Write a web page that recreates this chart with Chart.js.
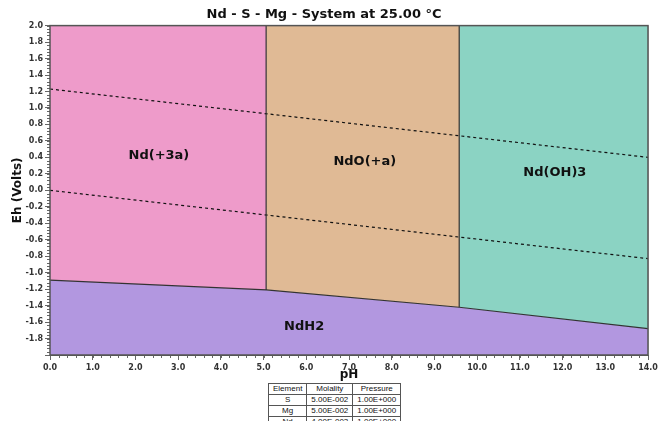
<!DOCTYPE html>
<html>
<head>
<meta charset="utf-8">
<script src="https://cdn.jsdelivr.net/npm/chart.js@4.4.1/dist/chart.umd.min.js"></script>
<style>
  body { margin: 0; background: #fff; }
  #wrap { position: relative; width: 665px; height: 421px; overflow: hidden; }
  #chart { position: absolute; left: 0; top: 0; }
  #conc { position: absolute; left: 268px; top: 383px; border-collapse: collapse;
          font: 8px "Liberation Sans", Arial, sans-serif; color: #111; background: #fff; }
  #conc td, #conc th { border: 1px solid #555; padding: 0 4px; height: 10px; line-height: 10px;
          text-align: center; font-weight: normal; }
</style>
</head>
<body>
<div id="wrap">
  <canvas id="chart" width="665" height="386"></canvas>
  <table id="conc"></table>
</div>
<script>
// stability field boundaries (pH where the fields meet, Eh of the lower hydride boundary)
const phBreaks = [0, 5.06, 9.58, 14];
const ehLower = [-1.09, -1.21, -1.42, -1.68];
const ehMax = 2.0;
const ehMin = -2.0;

const fieldNames = ['Nd(+3a)', 'NdO(+a)', 'Nd(OH)3'];
const fieldColors = ['#ee9bca', '#e0ba95', '#8bd3c3'];
const hydrideName = 'NdH2';
const hydrideColor = '#b297e0';

// water stability lines (Eh at pH 0 and pH 14)
const waterPH = [0, 14];
const o2Eh = [1.23, 0.40];
const h2Eh = [0.0, -0.83];

// where the field names sit
const labelText = ['Nd(+3a)', 'NdO(+a)', 'Nd(OH)3', 'NdH2'];
const labelPH = [2.55, 7.37, 11.82, 5.95];
const labelEh = [0.42, 0.35, 0.22, -1.65];

// concentration table
const elements = ['S', 'Mg', 'Nd'];
const molality = ['5.00E-002', '5.00E-002', '4.00E-003'];
const pressure = ['1.00E+000', '1.00E+000', '1.00E+000'];

const datasets = [];

// upper fields
fieldNames.forEach((name, i) => {
  datasets.push({
    label: name,
    data: [
      { x: phBreaks[i], y: ehMax },
      { x: phBreaks[i + 1], y: ehMax },
      { x: phBreaks[i + 1], y: ehLower[i + 1] },
      { x: phBreaks[i], y: ehLower[i] },
      { x: phBreaks[i], y: ehMax }
    ],
    showLine: true, pointRadius: 0, borderWidth: 0,
    backgroundColor: fieldColors[i], fill: 'shape', order: 10
  });
});

// hydride field at the bottom
const hydride = phBreaks.map((p, i) => ({ x: p, y: ehLower[i] }));
hydride.push({ x: phBreaks[phBreaks.length - 1], y: ehMin }, { x: phBreaks[0], y: ehMin }, { x: phBreaks[0], y: ehLower[0] });
datasets.push({
  label: hydrideName, data: hydride,
  showLine: true, pointRadius: 0, borderWidth: 0,
  backgroundColor: hydrideColor, fill: 'shape', order: 10
});

// boundary lines
datasets.push({
  label: 'lower boundary',
  data: phBreaks.map((p, i) => ({ x: p, y: ehLower[i] })),
  showLine: true, pointRadius: 0, borderWidth: 1.2, borderColor: '#333', fill: false, order: 1
});
for (let i = 1; i < phBreaks.length - 1; i++) {
  datasets.push({
    label: 'boundary ' + i,
    data: [{ x: phBreaks[i], y: ehMax }, { x: phBreaks[i], y: ehLower[i] }],
    showLine: true, pointRadius: 0, borderWidth: 1.2, borderColor: '#333', fill: false, order: 1
  });
}

// water lines
[o2Eh, h2Eh].forEach((eh, k) => {
  datasets.push({
    label: k === 0 ? 'O2/H2O' : 'H2O/H2',
    data: waterPH.map((p, i) => ({ x: p, y: eh[i] })),
    showLine: true, pointRadius: 0, borderWidth: 1.2, borderColor: '#111',
    borderDash: [3, 3], fill: false, order: 1
  });
});

const extras = {
  id: 'extras',
  afterDraw(chart) {
    const ctx = chart.ctx;
    const a = chart.chartArea;
    const xs = chart.scales.x, ys = chart.scales.y;
    ctx.save();
    // minor ticks
    ctx.strokeStyle = '#666';
    ctx.lineWidth = 1;
    ctx.beginPath();
    for (let v = 0; v <= 14.001; v += 0.2) {
      const px = Math.round(xs.getPixelForValue(v)) + 0.5;
      ctx.moveTo(px, a.bottom); ctx.lineTo(px, a.bottom + 3);
    }
    for (let v = -2; v <= 2.001; v += 0.04) {
      const py = Math.round(ys.getPixelForValue(v)) + 0.5;
      ctx.moveTo(a.left - 3, py); ctx.lineTo(a.left, py);
    }
    ctx.stroke();
    // frame
    ctx.strokeStyle = '#555';
    ctx.lineWidth = 1.5;
    ctx.strokeRect(a.left, a.top, a.right - a.left, a.bottom - a.top);
    // field names
    ctx.fillStyle = '#111';
    ctx.font = 'bold 13px "DejaVu Sans", sans-serif';
    ctx.textAlign = 'center';
    ctx.textBaseline = 'middle';
    labelText.forEach((t, i) => {
      ctx.fillText(t, xs.getPixelForValue(labelPH[i]), ys.getPixelForValue(labelEh[i]));
    });
    ctx.restore();
  }
};

new Chart(document.getElementById('chart'), {
  type: 'scatter',
  data: { datasets },
  options: {
    responsive: false,
    animation: false,
    layout: { padding: { right: 17 } },
    plugins: {
      legend: { display: false },
      tooltip: { enabled: false },
      title: {
        display: true,
        text: 'Nd - S - Mg - System at 25.00 °C',
        color: '#111',
        font: { family: '"DejaVu Sans", sans-serif', size: 13, weight: 'bold' },
        padding: { top: 7, bottom: 3 }
      }
    },
    scales: {
      x: {
        type: 'linear', min: 0, max: 14, z: 1,
        afterFit: s => { s.height = 31; },
        ticks: { stepSize: 1, padding: 3, color: '#333',
                 font: { family: '"DejaVu Sans", sans-serif', size: 8, weight: 'bold' },
                 callback: v => v.toFixed(1) },
        grid: { color: 'rgba(0,0,0,0.18)', borderDash: [1, 2], tickLength: 5,
                tickColor: '#666', tickBorderDash: [] },
        border: { color: '#555' },
        title: { display: true, text: 'pH', color: '#111', padding: { top: 0 },
                 font: { family: '"DejaVu Sans", sans-serif', size: 12, weight: 'bold' } }
      },
      y: {
        type: 'linear', min: -2, max: 2, z: 1,
        afterFit: s => { s.width = 50; },
        ticks: { stepSize: 0.2, padding: 2, color: '#333',
                 font: { family: '"DejaVu Sans", sans-serif', size: 8, weight: 'bold' },
                 callback: v => (Math.abs(v + 2) < 1e-6 ? '' : v.toFixed(1)) },
        grid: { color: 'rgba(0,0,0,0.18)', borderDash: [1, 2], tickLength: 5,
                tickColor: '#666', tickBorderDash: [] },
        border: { color: '#555' },
        title: { display: true, text: 'Eh (Volts)', color: '#111', padding: { top: 11 },
                 font: { family: '"DejaVu Sans", sans-serif', size: 12, weight: 'bold' } }
      }
    }
  },
  plugins: [extras]
});

// concentration table
const table = document.getElementById('conc');
let html = '<tr><th>Element</th><th>Molality</th><th>Pressure</th></tr>';
elements.forEach((el, i) => {
  html += `<tr><td>${el}</td><td>${molality[i]}</td><td>${pressure[i]}</td></tr>`;
});
table.innerHTML = html;
</script>
</body>
</html>
